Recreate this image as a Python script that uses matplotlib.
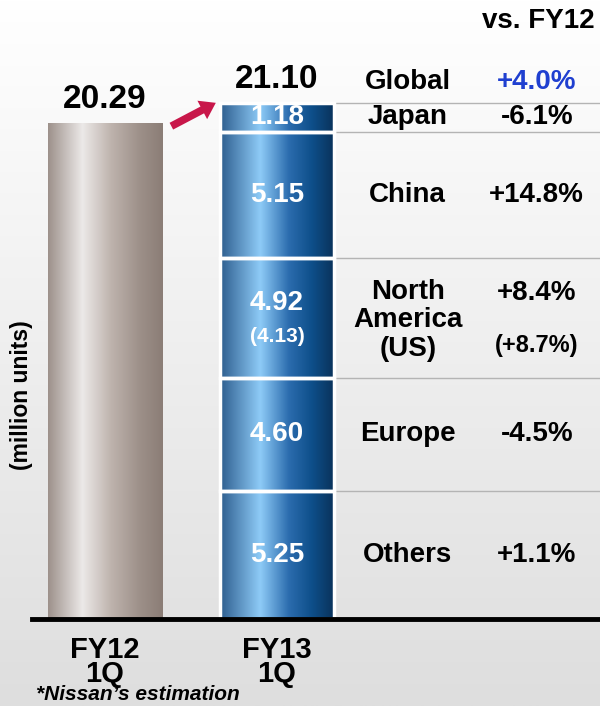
import numpy as np
import matplotlib.pyplot as plt
from matplotlib.colors import LinearSegmentedColormap

plt.rcParams['font.family'] = ['Liberation Sans', 'DejaVu Sans']
plt.rcParams['font.weight'] = 'bold'

categories = ["FY12\n1Q", "FY13\n1Q"]
fy12_total = 20.29
regions = ["Japan", "China", "North\nAmerica\n(US)", "Europe", "Others"]
fy13_values = [1.18, 5.15, 4.92, 4.60, 5.25]
changes = ["-6.1%", "+14.8%", "+8.4%", "-4.5%", "+1.1%"]
us_value = 4.13
us_change = "+8.7%"
global_label = "Global"
global_change = "+4.0%"
fy13_total = 21.10

gray_cmap = LinearSegmentedColormap.from_list(
    "gray", [(0, "#9d918b"), (0.3, "#ece9e8"), (0.55, "#beb3ad"), (0.8, "#9d9089"), (1, "#8b7d76")])
blue_cmap = LinearSegmentedColormap.from_list(
    "blue", [(0, "#2d5d8e"), (0.35, "#8ecbf7"), (0.6, "#2b6cae"), (0.8, "#0e4f8a"), (1, "#093159")])

fig = plt.figure(figsize=(6, 7.06), dpi=100)

# background gradient
bg = fig.add_axes([0, 0, 1, 1], zorder=-10)
bg.imshow(np.linspace(0, 1, 256).reshape(-1, 1),
          cmap=LinearSegmentedColormap.from_list("bg", ["#ffffff", "#dedede"]),
          aspect="auto", extent=(0, 1, 0, 1), origin="upper")
bg.axis("off")

ax = fig.add_axes([0, 87 / 706, 1, 619 / 706])
ax.set_facecolor("none")
w = 0.663

grad = np.linspace(0, 1, 256).reshape(1, -1)


def gradient_bar(patch, cmap, edge=2.5):
    x0, y0 = patch.get_x(), patch.get_y()
    im = ax.imshow(grad, cmap=cmap, aspect="auto",
                   extent=(x0, x0 + patch.get_width(), y0, y0 + patch.get_height()), zorder=1)
    im.set_clip_path(patch)
    patch.set_facecolor("none")
    patch.set_edgecolor("white")
    patch.set_linewidth(edge)
    patch.set_zorder(2)


b12 = ax.bar(0, fy12_total, width=w)[0]
gradient_bar(b12, gray_cmap, edge=0)

stack_vals = fy13_values[::-1]
bottoms = np.concatenate([[0], np.cumsum(stack_vals)[:-1]])
bars13 = ax.bar([1] * len(stack_vals), stack_vals, bottom=bottoms, width=w)
for p in bars13:
    gradient_bar(p, blue_cmap)

ax.set_xlim(-105 / 172, 495 / 172)
ax.set_ylim(0, 25.3)

# separator lines
tops = np.cumsum(stack_vals)
ax.hlines(tops, 1 + w / 2, 495 / 172, color="#b4b4b4", lw=1, zorder=0)

col_region = 1.76
col_pct = 2.51
fs = 20
for val, name, chg, bot in zip(stack_vals, regions[::-1], changes[::-1], bottoms):
    mid = bot + val / 2
    if name.startswith("North"):
        ax.text(1, mid + 0.6, f"{val:.2f}", color="white", ha="center", va="center", fontsize=20, zorder=3)
        ax.text(1, mid - 0.75, f"({us_value:.2f})", color="white", ha="center", va="center", fontsize=15, zorder=3)
        ax.text(col_region, mid - 0.1, name, ha="center", va="center", fontsize=fs, linespacing=1.13)
        ax.text(col_pct, mid + 1.0, chg, ha="center", va="center", fontsize=fs)
        ax.text(col_pct, mid - 1.15, f"({us_change})", ha="center", va="center", fontsize=17)
    else:
        ax.text(1, mid, f"{val:.2f}", color="white", ha="center", va="center", fontsize=20, zorder=3)
        ax.text(col_region, mid, name, ha="center", va="center", fontsize=fs)
        ax.text(col_pct, mid, chg, ha="center", va="center", fontsize=fs)

# totals
ax.text(0, fy12_total + 0.3, f"{fy12_total:.2f}", ha="center", va="bottom", fontsize=24)
ax.text(1, fy13_total + 0.3, f"{fy13_total:.2f}", ha="center", va="bottom", fontsize=24)
ax.text(col_region, fy13_total + 0.85, global_label, ha="center", va="center", fontsize=fs)
ax.text(col_pct, fy13_total + 0.85, global_change, ha="center", va="center", fontsize=fs, color="#1f3fd0")
ax.text(2.52, 24.45, "vs. FY12", ha="center", va="center", fontsize=fs)

# arrow
ax.annotate("", xy=(1 - w / 2 - 0.01, fy13_total + 0.05), xytext=(w / 2 + 0.04, fy12_total - 0.2),
            arrowprops=dict(arrowstyle="simple,head_width=1.5,head_length=1.1,tail_width=0.55",
                            color="#c8174a", lw=0))

ax.axhline(0, xmin=32 / 600, xmax=1, color="black", lw=3.5, zorder=4, clip_on=False)
ax.set_xticks([0, 1], categories)
ax.tick_params(axis="x", length=0, pad=12, labelsize=21)
for t in ax.get_xticklabels():
    t.set_linespacing(0.85)
ax.set_yticks([])
for s in ax.spines.values():
    s.set_visible(False)

fig.text(22 / 600, 1 - 395 / 706, "(million units)", rotation=90, ha="center", va="center", fontsize=16.5)
fig.text(36 / 600, 1 - 695 / 706, "*Nissan\u2019s estimation", style="italic", ha="left", va="center", fontsize=15)

fig.savefig("out.png", dpi=100)
